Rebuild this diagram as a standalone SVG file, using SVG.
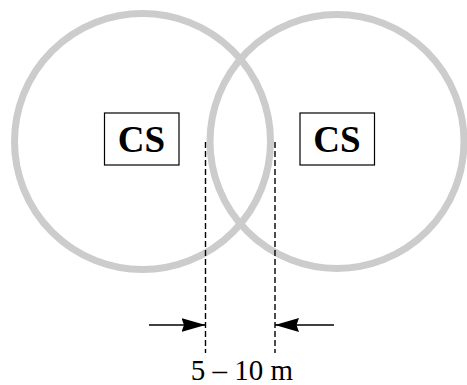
<svg xmlns="http://www.w3.org/2000/svg" width="467" height="385" viewBox="0 0 467 385">
<defs>
<style>
.range{fill:none;stroke:#cccccc;stroke-width:7}
.box{fill:#ffffff;stroke:#000000;stroke-width:1.2}
.lbl{font-family:"Liberation Serif","Times New Roman",serif;font-weight:bold;font-size:37px;text-anchor:middle;fill:#000}
.dim{stroke:#000;stroke-width:1.4;stroke-dasharray:6 3;fill:none}
.arr{stroke:#000;stroke-width:1.4;fill:none}
.txt{font-family:"Liberation Serif","Times New Roman",serif;font-size:29px;text-anchor:middle;fill:#000}
</style>
<marker id="ah" viewBox="0 0 24 14" refX="24" refY="7" markerWidth="24" markerHeight="14" markerUnits="userSpaceOnUse" orient="auto">
<path d="M0,0 L24,7 L0,14 L2.5,7 Z" fill="#000"/>
</marker>
</defs>
<g id="range-left"><circle class="range" cx="142.5" cy="141.5" r="128"/></g>
<g id="range-right"><circle class="range" cx="337" cy="141.5" r="127"/></g>
<g id="cs-left">
<rect class="box" x="104.5" y="113" width="74.5" height="52"/>
<text class="lbl" x="141.5" y="152">CS</text>
</g>
<g id="cs-right">
<rect class="box" x="300" y="113" width="74.5" height="52"/>
<text class="lbl" x="337" y="152">CS</text>
</g>
<g id="connectors">
<line class="dim" x1="205.5" y1="142" x2="205.5" y2="353"/>
<line class="dim" x1="275" y1="142" x2="275" y2="353"/>
<line class="arr" x1="149" y1="325" x2="205.5" y2="325" marker-end="url(#ah)"/>
<line class="arr" x1="334" y1="325" x2="275" y2="325" marker-end="url(#ah)"/>
</g>
<text class="txt" x="242" y="380">5 – 10 m</text>
</svg>
